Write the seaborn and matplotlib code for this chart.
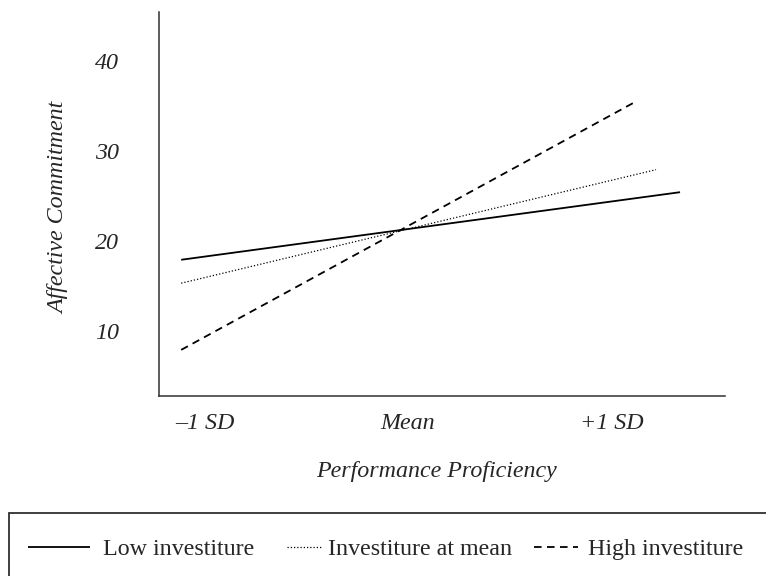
import matplotlib
matplotlib.use("Agg")
import matplotlib.pyplot as plt
from matplotlib.patches import Rectangle
import seaborn as sns
import pandas as pd

# ---- data ----
series_names = ["Low investiture", "Investiture at mean", "High investiture"]
x_start = [-1.115, -1.115, -1.115]
x_end = [1.337, 1.219, 1.115]
y_start = [17.9, 15.3, 7.9]
y_end = [25.4, 27.9, 35.4]
x_tick_pos = [-1.0, 0.0, 1.0]
x_tick_labels = ["\u20131 SD", "Mean", "+1 SD"]
y_ticks = [10, 20, 30, 40]

rows = []
for name, xs, xe, ys, ye in zip(series_names, x_start, x_end, y_start, y_end):
    rows.append({"x": xs, "y": ys, "series": name})
    rows.append({"x": xe, "y": ye, "series": name})
df = pd.DataFrame(rows)

sns.set_theme(style="white")
plt.rcParams["font.family"] = ["Liberation Serif", "DejaVu Serif"]
FS = 17.3

fig = plt.figure(figsize=(7.66, 5.76), dpi=100)
ax = fig.add_axes([159 / 766, 1 - 396 / 576, (725 - 159) / 766, (396 - 12) / 576])

styles = {
    "Low investiture": dict(lw=1.3, dashes=None),
    "Investiture at mean": dict(lw=0.9, dashes=(1.0, 1.6)),
    "High investiture": dict(lw=1.3, dashes=(4.2, 3.0)),
}

handles = []
for name in series_names:
    sub = df[df["series"] == name]
    sns.lineplot(data=sub, x="x", y="y", ax=ax, color="black",
                 linewidth=styles[name]["lw"], label=name, legend=False)
    line = ax.lines[-1]
    if styles[name]["dashes"] is not None:
        line.set_dashes(styles[name]["dashes"])
    line.set_solid_capstyle("butt")
    line.set_dash_capstyle("butt")
    handles.append(line)

ax.set_xlim(-1.224, 1.558)
ax.set_ylim(2.78, 45.4)
ax.set_xticks(x_tick_pos)
ax.set_xticklabels(x_tick_labels, fontsize=FS, style="italic")
ax.set_yticks(y_ticks)
ax.set_yticklabels([str(v) for v in y_ticks], fontsize=FS, style="italic")
ax.tick_params(axis="both", length=0)
ax.tick_params(axis="y", pad=29)
ax.tick_params(axis="x", pad=12)

for s in ["top", "right"]:
    ax.spines[s].set_visible(False)
for s in ["left", "bottom"]:
    ax.spines[s].set_color("#303030")
    ax.spines[s].set_linewidth(1.1)

ax.set_xlabel("Performance Proficiency", fontsize=FS, style="italic")
ax.xaxis.set_label_coords((437 - 159) / 566, (396 - 461) / 384)
ax.set_ylabel("Affective Commitment", fontsize=FS, style="italic")
ax.yaxis.set_label_coords((69 - 159) / 566, 0.49)

# legend box (partially outside the figure, as in the reference)
rect = Rectangle((9 / 766, -0.1), 1.2, 0.1 + (576 - 513) / 576,
                 transform=fig.transFigure, fill=False,
                 edgecolor="#303030", linewidth=1.3, clip_on=False)
fig.patches.append(rect)

# one legend entry per series, placed as in the reference
fs_px = FS * 100 / 72
leg_x = [28, 287, 534]
leg_hl = [62, 35, 44]
leg_pad = [13, 6, 10]
for h, name, lx, hl, pad in zip(handles, series_names, leg_x, leg_hl, leg_pad):
    leg = fig.legend([h], [name], loc="center left",
                     bbox_to_anchor=(lx / 766, 1 - 549 / 576), frameon=False,
                     fontsize=FS, handlelength=hl / fs_px,
                     handletextpad=pad / fs_px, borderpad=0, borderaxespad=0)

fig.savefig("out.png", dpi=100, facecolor="white")
